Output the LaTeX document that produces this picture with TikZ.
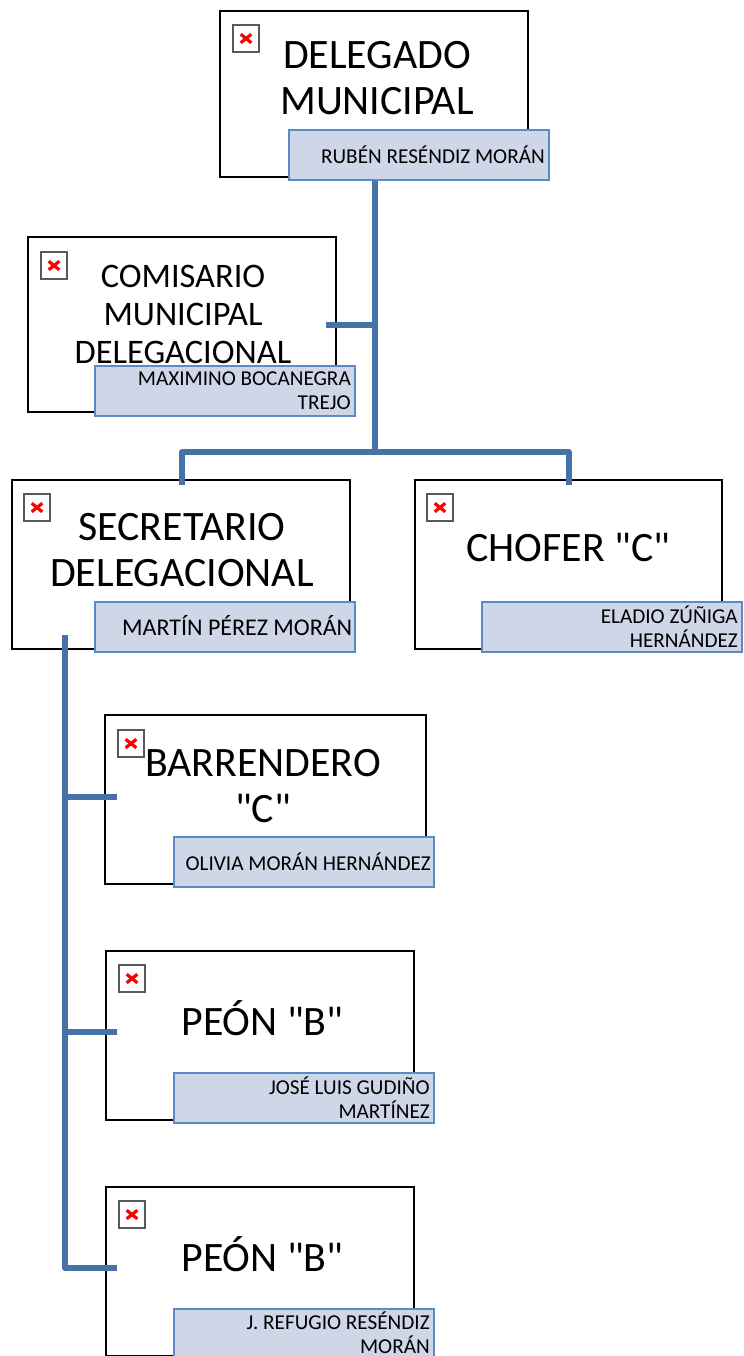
\documentclass[tikz,border=0pt]{standalone}
\usepackage{fontspec}
\setmainfont{Carlito}[Ligatures=TeXOff]
\definecolor{linkblue}{HTML}{4672A8}
\definecolor{namefill}{HTML}{CFD6E8}
\definecolor{nameline}{HTML}{5B8BC5}
\tikzset{
  cargo/.style={draw=black,fill=white,line width=1.4pt,outer sep=0pt,anchor=north west,inner sep=0pt,minimum height=169*0.75pt},
  titulo/.style={align=center,inner sep=0pt,font=\fontsize{31.4}{34.5}\selectfont},
  titulosm/.style={align=center,inner sep=0pt,font=\fontsize{25.8}{28.5}\selectfont},
  nombre/.style={draw=nameline,fill=namefill,line width=2.1pt,outer sep=0pt,anchor=north west,minimum width=260*0.75pt,minimum height=50*0.75pt,inner sep=0pt},
  nombretxt/.style={align=right,anchor=east,inner sep=0pt,font=\fontsize{15.9}{18}\selectfont},
  icono/.style={draw=gray!70!black,fill=white,line width=1.5pt,outer sep=0pt,minimum width=26*0.75pt,minimum height=27*0.75pt,inner sep=0pt,anchor=north west,
    path picture={\draw[red,line width=2.4pt] ([shift={(-4pt,-3.2pt)}]path picture bounding box.center) -- ([shift={(4pt,3.2pt)}]path picture bounding box.center);
      \draw[red,line width=2.4pt] ([shift={(-4pt,3.2pt)}]path picture bounding box.center) -- ([shift={(4pt,-3.2pt)}]path picture bounding box.center);}},
  enlace/.style={draw=linkblue,line width=4pt,line join=round}
}
\begin{document}
\begin{tikzpicture}[x=0.75pt,y=-0.75pt]
\useasboundingbox (0,0) rectangle (743,1356);
\clip (0,0) rectangle (743,1356);
% cargos
\node[cargo,minimum width=308*0.75pt,minimum height=166*0.75pt] (delegado) at (220,11) {};
\node[cargo,minimum width=308*0.75pt,minimum height=175*0.75pt] (comisario) at (28,237) {};
\node[cargo,minimum width=338*0.75pt] (secretario) at (12,480) {};
\node[cargo,minimum width=307*0.75pt] (chofer) at (415,480) {};
\node[cargo,minimum width=321*0.75pt] (barrendero) at (105,715) {};
\node[cargo,minimum width=308*0.75pt] (peona) at (106,951) {};
\node[cargo,minimum width=308*0.75pt] (peonb) at (106,1187) {};
% iconos
\foreach \nm/\ix/\iy in {delegado/233/25,comisario/41/252,secretario/24/494,chofer/427/494,barrendero/118/730,peona/119/965,peonb/119/1201}
  \node[icono] (icono\nm) at (\ix,\iy) {};
% titulos
\node[titulo] (tdelegado) at (377,78) {DELEGADO\\MUNICIPAL};
\node[titulosm] (tcomisario) at (183,314) {COMISARIO\\MUNICIPAL\\DELEGACIONAL};
\node[titulo] (tsecretario) at (182,550) {SECRETARIO\\DELEGACIONAL};
\node[titulo] (tchofer) at (568.5,548) {CHOFER "C"};
\node[titulo] (tbarrendero) at (263,786) {BARRENDERO\\"C"};
\node[titulo] (tpeona) at (262.5,1018.5) {PEÓN "B"};
\node[titulo] (tpeonb) at (262.5,1254.5) {PEÓN "B"};
% enlaces
\coordinate (junta) at (375,452);
\coordinate (puntacomisario) at (326,325);
\coordinate (puntasecretario) at (182,485);
\coordinate (puntachofer) at (569,485);
\coordinate (inicio) at (65,635);
\coordinate (puntaa) at (117,797);
\coordinate (puntab) at (117,1032);
\coordinate (puntac) at (117,1268);
\draw[enlace] (375,180) -- (junta);
\draw[enlace] (puntacomisario) -- (puntacomisario -| junta);
\draw[enlace] (puntasecretario) |- (junta) -| (puntachofer);
\draw[enlace] (inicio) |- (puntac);
\draw[enlace] (puntaa -| inicio) -- (puntaa);
\draw[enlace] (puntab -| inicio) -- (puntab);
% nombres
\node[nombre] (ndelegado) at (289,130) {};
\node[nombre] (ncomisario) at (95,366) {};
\node[nombre] (nsecretario) at (95,602) {};
\node[nombre] (nchofer) at (482,602) {};
\node[nombre] (nbarrendero) at (174,837) {};
\node[nombre] (npeona) at (174,1073) {};
\node[nombre] (npeonb) at (174,1309) {};
\node[nombretxt] at (545,154.5) {RUBÉN RESÉNDIZ MORÁN};
\node[nombretxt] at (351,390.5) {MAXIMINO BOCANEGRA\\TREJO};
\node[nombretxt,font=\fontsize{18}{18}\selectfont] at (352.5,625.5) {MARTÍN PÉREZ MORÁN};
\node[nombretxt] at (738,626.5) {ELADIO ZÚÑIGA\\HERNÁNDEZ};
\node[nombretxt] at (431,861.5) {OLIVIA MORÁN HERNÁNDEZ};
\node[nombretxt] at (430,1097.5) {JOSÉ LUIS GUDIÑO\\MARTÍNEZ};
\node[nombretxt] at (430,1333) {J. REFUGIO RESÉNDIZ\\MORÁN};
\end{tikzpicture}
\end{document}
